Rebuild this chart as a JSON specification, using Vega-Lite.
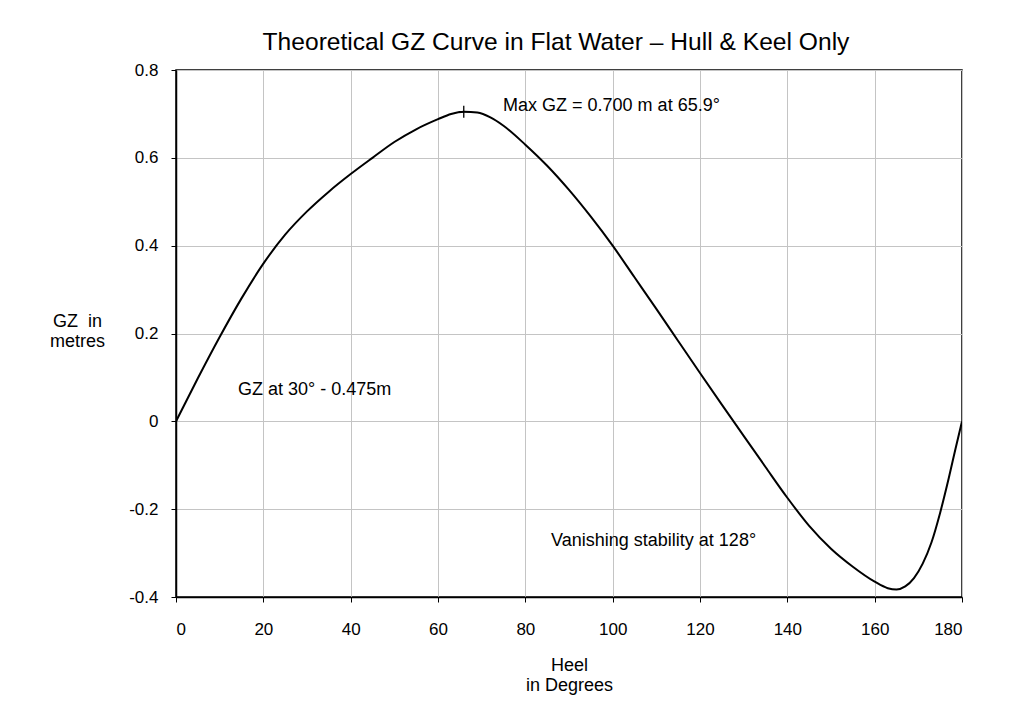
{
  "$schema": "https://vega.github.io/schema/vega-lite/v6.json",
  "width": 786,
  "height": 527,
  "autosize": {"type": "none"},
  "padding": {"left": 176, "top": 70, "right": 56, "bottom": 123},
  "background": "white",
  "title": {"text": "Theoretical GZ Curve in Flat Water – Hull & Keel Only", "font": "Liberation Sans", "fontSize": 24.6, "fontWeight": "normal", "color": "black", "anchor": "middle", "offset": 5, "dx": -13},
  "config": {
    "view": {"stroke": "black", "strokeWidth": 1.5},
    "font": "Liberation Sans",
    "axis": {"labelFont": "Liberation Sans", "titleFont": "Liberation Sans", "labelFontSize": 17, "labelColor": "black", "titleColor": "black", "titleFontWeight": "normal", "titleFontSize": 18, "gridColor": "#c4c4c4", "gridWidth": 1, "gridOpacity": 1, "domainColor": "black", "domainWidth": 1.5, "tickColor": "black", "tickWidth": 1, "tickSize": 5}
  },
  "datasets": {
    "curve": [
      {"heel": 0, "gz": 0},
      {"heel": 5, "gz": 0.098},
      {"heel": 10, "gz": 0.192},
      {"heel": 15, "gz": 0.28},
      {"heel": 20, "gz": 0.359},
      {"heel": 25, "gz": 0.425},
      {"heel": 30, "gz": 0.478},
      {"heel": 35, "gz": 0.523},
      {"heel": 40, "gz": 0.563},
      {"heel": 45, "gz": 0.6},
      {"heel": 50, "gz": 0.636},
      {"heel": 55, "gz": 0.665},
      {"heel": 60, "gz": 0.688},
      {"heel": 63, "gz": 0.7},
      {"heel": 66, "gz": 0.705},
      {"heel": 69, "gz": 0.703},
      {"heel": 72, "gz": 0.692},
      {"heel": 75, "gz": 0.673},
      {"heel": 80, "gz": 0.63},
      {"heel": 85, "gz": 0.582},
      {"heel": 90, "gz": 0.527},
      {"heel": 95, "gz": 0.466},
      {"heel": 100, "gz": 0.4},
      {"heel": 105, "gz": 0.328},
      {"heel": 110, "gz": 0.256},
      {"heel": 115, "gz": 0.183},
      {"heel": 120, "gz": 0.11},
      {"heel": 125, "gz": 0.038},
      {"heel": 130, "gz": -0.033},
      {"heel": 135, "gz": -0.104},
      {"heel": 140, "gz": -0.174},
      {"heel": 145, "gz": -0.238},
      {"heel": 150, "gz": -0.29},
      {"heel": 155, "gz": -0.331},
      {"heel": 160, "gz": -0.365},
      {"heel": 163, "gz": -0.38},
      {"heel": 165, "gz": -0.383},
      {"heel": 167, "gz": -0.376},
      {"heel": 169, "gz": -0.357},
      {"heel": 171, "gz": -0.324},
      {"heel": 173, "gz": -0.276},
      {"heel": 175, "gz": -0.208},
      {"heel": 177, "gz": -0.128},
      {"heel": 178.5, "gz": -0.063},
      {"heel": 180, "gz": 0}
    ],
    "peak": [{"heel": 65.9, "gz": 0.705}],
    "notes": [
      {"heel": 74.9, "gz": 0.717, "label": "Max GZ = 0.700 m at 65.9°"},
      {"heel": 14.2, "gz": 0.072, "label": "GZ at 30° - 0.475m"},
      {"heel": 85.9, "gz": -0.272, "label": "Vanishing stability at 128°"}
    ]
  },
  "layer": [
    {
      "data": {"name": "curve"},
      "mark": {"type": "line", "color": "black", "strokeWidth": 2, "interpolate": "monotone", "clip": true},
      "encoding": {
        "x": {"field": "heel", "type": "quantitative", "scale": {"domain": [0, 180], "nice": false},
          "axis": {"values": [0, 20, 40, 60, 80, 100, 120, 140, 160, 180], "title": ["Heel", "in Degrees"], "titleY": 59, "titleBaseline": "top", "titleLineHeight": 20, "labelPadding": 19, "grid": true}},
        "y": {"field": "gz", "type": "quantitative", "scale": {"domain": [-0.4, 0.8], "nice": false, "zero": false},
          "axis": {"values": [-0.4, -0.2, 0, 0.2, 0.4, 0.6, 0.8], "labelExpr": "datum.value < 0 ? '-' + format(-datum.value, '~g') : format(datum.value, '~g')", "title": ["GZ\u00a0\u00a0in", "metres"], "titleAngle": 0, "titleAlign": "center", "titleBaseline": "top", "titleX": -99, "titleY": 242, "titleLineHeight": 20, "labelPadding": 13, "grid": true}}
      }
    },
    {
      "data": {"name": "peak"},
      "mark": {"type": "point", "shape": "M-1,0L1,0M0,-1.2L0,1.2", "stroke": "black", "strokeWidth": 1.3, "filled": false, "size": 100, "opacity": 1},
      "encoding": {
        "x": {"field": "heel", "type": "quantitative"},
        "y": {"field": "gz", "type": "quantitative"}
      }
    },
    {
      "data": {"name": "notes"},
      "mark": {"type": "text", "align": "left", "baseline": "middle", "fontSize": 18, "font": "Liberation Sans", "color": "black"},
      "encoding": {
        "x": {"field": "heel", "type": "quantitative"},
        "y": {"field": "gz", "type": "quantitative"},
        "text": {"field": "label"}
      }
    }
  ]
}
